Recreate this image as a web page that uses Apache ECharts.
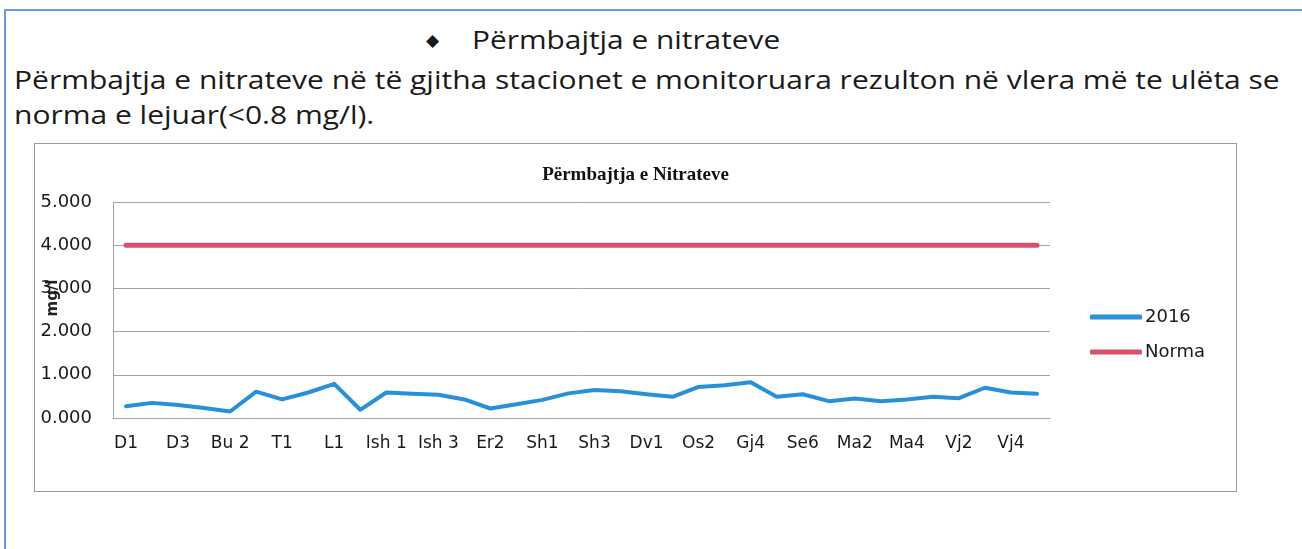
<!DOCTYPE html>
<html>
<head>
<meta charset="utf-8">
<script src="https://cdn.jsdelivr.net/npm/echarts@6/dist/echarts.min.js"></script>
<style>
  html, body { margin: 0; padding: 0; background: #fff; }
  body { width: 1302px; height: 549px; position: relative; overflow: hidden; font-family: 'Open Sans', sans-serif; color: #1a1a1a; }
  .frame-top { position: absolute; left: 4px; top: 9px; width: 1298px; height: 2px; background: #6b9bd9; }
  .frame-left { position: absolute; left: 4px; top: 9px; width: 2px; height: 540px; background: #6b9bd9; }
  .dia { position: absolute; left: 426px; top: 30px; font-size: 17px; line-height: 20px; }
  .fit { position: absolute; white-space: nowrap; font-size: 25px; line-height: 36px; transform-origin: 0 50%; }
  #chart { position: absolute; left: 34px; top: 143px; width: 1203px; height: 349px; border: 1px solid #9a9a9a; box-sizing: border-box; }
</style>
</head>
<body>
<div class="frame-top"></div>
<div class="frame-left"></div>
<div class="dia">&#9670;</div>
<div class="fit" id="head" style="left:472px; top:21px">Përmbajtja e nitrateve</div>
<div class="fit" id="line1" style="left:14px; top:61px">Përmbajtja e nitrateve në të gjitha stacionet e monitoruara rezulton në vlera më te ulëta se</div>
<div class="fit" id="line2" style="left:14px; top:96px">norma e lejuar(&lt;0.8 mg/l).</div>
<div id="chart"></div>
<script>
(function() {
  // the scanned text runs wider than any installed font, stretch it to the same width
  function fit(id, width) {
    var el = document.getElementById(id);
    var s = width / el.offsetWidth;
    el.style.transform = 'scaleX(' + s + ')';
    return s;
  }
  fit('head', 308);
  var s1 = fit('line1', 1266);
  document.getElementById('line2').style.transform = 'scaleX(' + s1 + ')';
})();

(function() {
  var stations = [
    'D1', 'D2', 'D3', 'Bu 1', 'Bu 2', 'Bu 3', 'T1', 'T2', 'L1', 'L2',
    'Ish 1', 'Ish 2', 'Ish 3', 'Er1', 'Er2', 'Er3', 'Sh1', 'Sh2', 'Sh3', 'Sh4',
    'Dv1', 'Os1', 'Os2', 'Gj3', 'Gj4', 'Se5', 'Se6', 'Ma1', 'Ma2', 'Ma3',
    'Ma4', 'Vj1', 'Vj2', 'Vj3', 'Vj4', 'Vj5'
  ];

  // nitrate values 2016 (mg/l)
  var values2016 = [
    0.27, 0.35, 0.30, 0.23, 0.15, 0.61, 0.43, 0.59, 0.79, 0.19,
    0.59, 0.56, 0.54, 0.43, 0.22, 0.32, 0.42, 0.57, 0.65, 0.62,
    0.55, 0.49, 0.72, 0.76, 0.83, 0.49, 0.55, 0.39, 0.45, 0.39,
    0.43, 0.49, 0.46, 0.70, 0.59, 0.56
  ];

  var normaValue = 4;
  var norma = stations.map(function() { return normaValue; });

  var yTicks = [0, 1, 2, 3, 4, 5];

  var grid = '#a3a3a3';
  var labelFont = 'DejaVu Sans';

  var chart = echarts.init(document.getElementById('chart'), null, { renderer: 'canvas' });

  chart.setOption({
    animation: false,
    title: {
      text: 'Përmbajtja e Nitrateve',
      left: 'center',
      top: 17,
      textStyle: { fontFamily: 'Liberation Serif', fontWeight: 'bold', fontSize: 19, color: '#111' }
    },
    legend: {
      orient: 'vertical',
      left: 1050,
      top: 159,
      itemWidth: 52,
      itemHeight: 5,
      itemGap: 17,
      icon: 'roundRect',
      data: ['2016', 'Norma'],
      textStyle: { fontFamily: labelFont, fontSize: 18, color: '#1a1a1a', padding: [0, 0, 0, -2] }
    },
    grid: { left: 78, right: 186, top: 58, bottom: 73, outerBoundsMode: 'none' },
    xAxis: {
      type: 'category',
      data: stations,
      boundaryGap: true,
      axisLine: { lineStyle: { color: grid, width: 1 } },
      axisTick: { show: false },
      axisLabel: { interval: 1, margin: 17, fontFamily: labelFont, fontSize: 17, color: '#1a1a1a' }
    },
    yAxis: {
      type: 'value',
      min: yTicks[0],
      max: yTicks[yTicks.length - 1],
      interval: 1,
      name: 'mg/l',
      nameLocation: 'middle',
      nameGap: 52,
      nameRotate: 90,
      nameMoveOverlap: false,
      nameTextStyle: { fontFamily: labelFont, fontSize: 15, fontWeight: 'bold', color: '#222', padding: [0, 0, 0, 24] },
      axisLine: { show: true, lineStyle: { color: grid, width: 1 } },
      axisTick: { show: false },
      splitLine: { lineStyle: { color: grid, width: 1 } },
      axisLabel: {
        margin: 21,
        fontFamily: labelFont,
        fontSize: 18,
        color: '#1a1a1a',
        formatter: function(v) { return v.toFixed(3); }
      }
    },
    series: [
      {
        name: '2016',
        type: 'line',
        data: values2016,
        symbol: 'none',
        color: '#2790d8',
        lineStyle: { width: 4, color: '#2790d8', cap: 'round', join: 'round' }
      },
      {
        name: 'Norma',
        type: 'line',
        data: norma,
        symbol: 'none',
        color: '#d9506c',
        lineStyle: { width: 5, color: '#d9506c', cap: 'round' }
      }
    ]
  });

  window.addEventListener('resize', function() { chart.resize(); });
})();
</script>
</body>
</html>
